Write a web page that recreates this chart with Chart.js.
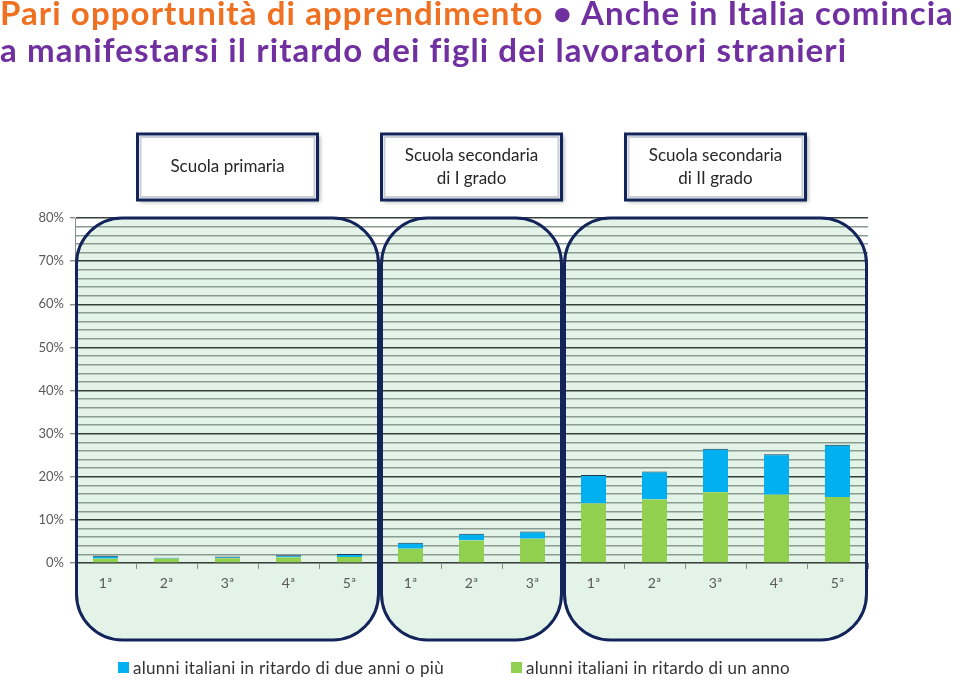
<!DOCTYPE html>
<html lang="it">
<head>
<meta charset="utf-8">
<title>Pari opportunità di apprendimento</title>
<script src="https://cdn.jsdelivr.net/npm/chart.js@4/dist/chart.umd.min.js"></script>
<style>
    body { margin: 0; background: #fff; }
    #wrap { position: relative; width: 960px; height: 680px; overflow: hidden; }
    #chart { position: absolute; left: 0; top: 0; }
    #title {
        position: absolute; left: 0; top: -6px; width: 990px;
        font-family: Lato, "Noto Sans", sans-serif; font-weight: 700;
        font-size: 33px; line-height: 37px; letter-spacing: 1.1px; white-space: nowrap;
    }
    #title .o { color: #f07022; }
    #title .p { color: #7030a0; }
    #legend {
        position: absolute; top: 657px; left: 0; width: 960px;
        font-family: Lato, "Noto Sans", sans-serif; font-size: 17px; letter-spacing: 0.3px; color: #333;
    }
    .item { position: absolute; display: flex; align-items: center; }
    .item i { display: inline-block; width: 11px; height: 11px; margin-right: 4px; }
</style>
</head>
<body>
<div id="wrap">
    <canvas id="chart" width="960" height="680"></canvas>
    <div id="title"><span class="o">Pari opportunità di apprendimento</span> <span class="p">• Anche in Italia comincia<br>a manifestarsi il ritardo dei figli dei lavoratori stranieri</span></div>
    <div id="legend"></div>
</div>
<script>
const categories = ["1ª", "2ª", "3ª", "4ª", "5ª", "1ª", "2ª", "3ª", "1ª", "2ª", "3ª", "4ª", "5ª"];

// % alunni italiani in ritardo di un anno
const unAnno = [1.0, 1.0, 1.1, 1.3, 1.4, 3.3, 5.2, 5.6, 13.8, 14.7, 16.4, 15.8, 15.3];

// % alunni italiani in ritardo di due anni o più
const dueAnni = [0.7, 0.2, 0.4, 0.5, 0.7, 1.4, 1.6, 1.7, 6.6, 6.5, 10.1, 9.4, 12.1];

const gruppi = ["Scuola primaria", "Scuola secondaria\ndi I grado", "Scuola secondaria\ndi II grado"];
const classiPerGruppo = [5, 3, 5];

const yMax = 80;
const yStep = 2;
const yLabelStep = 10;

const seriesLabels = ["alunni italiani in ritardo di due anni o più", "alunni italiani in ritardo di un anno"];

const BLUE = "#00b0f0";
const GREEN = "#92d050";
const NAVY = "#13245a";
const FONT = "Lato, 'Noto Sans', sans-serif";

function panelRects(chart) {
    const x = chart.scales.x;
    const area = chart.chartArea;
    const w = (x.right - x.left) / categories.length;
    let start = 0;

    return classiPerGruppo.map(n => {
        const left = x.left + start * w;
        start += n;
        return { left: left, right: x.left + start * w, top: area.top, bottom: area.bottom + 77 };
    });
}

function roundedPath(ctx, x, y, w, h, r) {
    ctx.beginPath();
    ctx.moveTo(x + r, y);
    ctx.lineTo(x + w - r, y);
    ctx.arcTo(x + w, y, x + w, y + r, r);
    ctx.lineTo(x + w, y + h - r);
    ctx.arcTo(x + w, y + h, x + w - r, y + h, r);
    ctx.lineTo(x + r, y + h);
    ctx.arcTo(x, y + h, x, y + h - r, r);
    ctx.lineTo(x, y + r);
    ctx.arcTo(x, y, x + r, y, r);
    ctx.closePath();
}

const panelsPlugin = {
    id: "panels",
    beforeDraw(chart) {
        const ctx = chart.ctx;
        ctx.save();
        panelRects(chart).forEach(p => {
            roundedPath(ctx, p.left + 1.5, p.top, p.right - p.left - 3, p.bottom - p.top, 46);
            ctx.fillStyle = "#e3f3e7";
            ctx.fill();
        });
        ctx.restore();
    },
    afterDatasetsDraw(chart) {
        const ctx = chart.ctx;
        ctx.save();
        ctx.lineWidth = 3;
        ctx.strokeStyle = NAVY;
        panelRects(chart).forEach(p => {
            roundedPath(ctx, p.left + 1.5, p.top, p.right - p.left - 3, p.bottom - p.top, 46);
            ctx.stroke();
        });
        ctx.restore();
    },
    afterDraw(chart) {
        const ctx = chart.ctx;
        const rects = panelRects(chart);

        rects.forEach((p, i) => {
            const cx = (p.left + p.right) / 2;
            const w = 180, h = 66;
            const bx = cx - w / 2, by = p.top - 84;

            ctx.save();
            ctx.shadowColor = "rgba(0,0,0,0.35)";
            ctx.shadowBlur = 4;
            ctx.shadowOffsetX = 2;
            ctx.shadowOffsetY = 2;
            ctx.fillStyle = "#fff";
            ctx.fillRect(bx, by, w, h);
            ctx.restore();

            ctx.save();
            ctx.lineWidth = 3;
            ctx.strokeStyle = NAVY;
            ctx.strokeRect(bx, by, w, h);
            ctx.lineWidth = 2;
            ctx.strokeStyle = "#c9cdd6";
            ctx.strokeRect(bx + 3, by + 3, w - 6, h - 6);

            ctx.fillStyle = "#262626";
            ctx.font = "17px " + FONT;
            ctx.textAlign = "center";
            ctx.textBaseline = "middle";
            const lines = gruppi[i].split("\n");
            lines.forEach((line, k) => {
                const ly = by + h / 2 + (k - (lines.length - 1) / 2) * 23;
                ctx.fillText(line, cx, ly);
            });
            ctx.restore();
        });
    }
};

new Chart(document.getElementById("chart"), {
    type: "bar",
    data: {
        labels: categories,
        datasets: [
            {
                label: seriesLabels[1],
                data: unAnno,
                backgroundColor: GREEN,
                borderWidth: 0
            },
            {
                label: seriesLabels[0],
                data: dueAnni,
                backgroundColor: BLUE,
                borderColor: "#1d3a4e",
                borderWidth: { top: 1, left: 0, right: 0, bottom: 0 },
                borderSkipped: false
            }
        ]
    },
    options: {
        responsive: false,
        animation: false,
        barPercentage: 0.41,
        categoryPercentage: 1,
        layout: {
            padding: { top: 218, right: 92, left: 0, bottom: 0 }
        },
        plugins: {
            legend: { display: false },
            tooltip: { enabled: false }
        },
        scales: {
            x: {
                stacked: true,
                afterFit: s => { s.height = 117; },
                grid: {
                    display: true,
                    drawOnChartArea: false,
                    offset: true,
                    tickLength: 6,
                    color: "#8a8a8a"
                },
                border: { color: "#8a8a8a" },
                ticks: {
                    color: "#595959",
                    padding: 6,
                    font: { family: FONT, size: 14 }
                }
            },
            y: {
                stacked: true,
                min: 0,
                max: yMax,
                afterFit: s => { s.width = 75; },
                ticks: {
                    stepSize: yStep,
                    autoSkip: false,
                    color: "#595959",
                    padding: 6,
                    font: { family: FONT, size: 13 },
                    callback: v => (v % yLabelStep === 0 ? v + "%" : "")
                },
                grid: {
                    tickLength: 5,
                    lineWidth: 1.4,
                    color: c => (c.tick && c.tick.value % yLabelStep === 0 ? "#36403b" : "#8a9b91"),
                    tickColor: c => (c.tick && c.tick.value % yLabelStep === 0 ? "#8a8a8a" : "rgba(0,0,0,0)")
                },
                border: { color: "#8a8a8a" }
            }
        }
    },
    plugins: [panelsPlugin]
});

// legend, built from the series
const legendEl = document.getElementById("legend");
[[seriesLabels[0], BLUE, 118], [seriesLabels[1], GREEN, 511]].forEach(([text, color, left]) => {
    const item = document.createElement("div");
    item.className = "item";
    item.style.left = left + "px";
    item.innerHTML = `<i style="background:${color}"></i><span>${text}</span>`;
    legendEl.appendChild(item);
});
</script>
</body>
</html>
